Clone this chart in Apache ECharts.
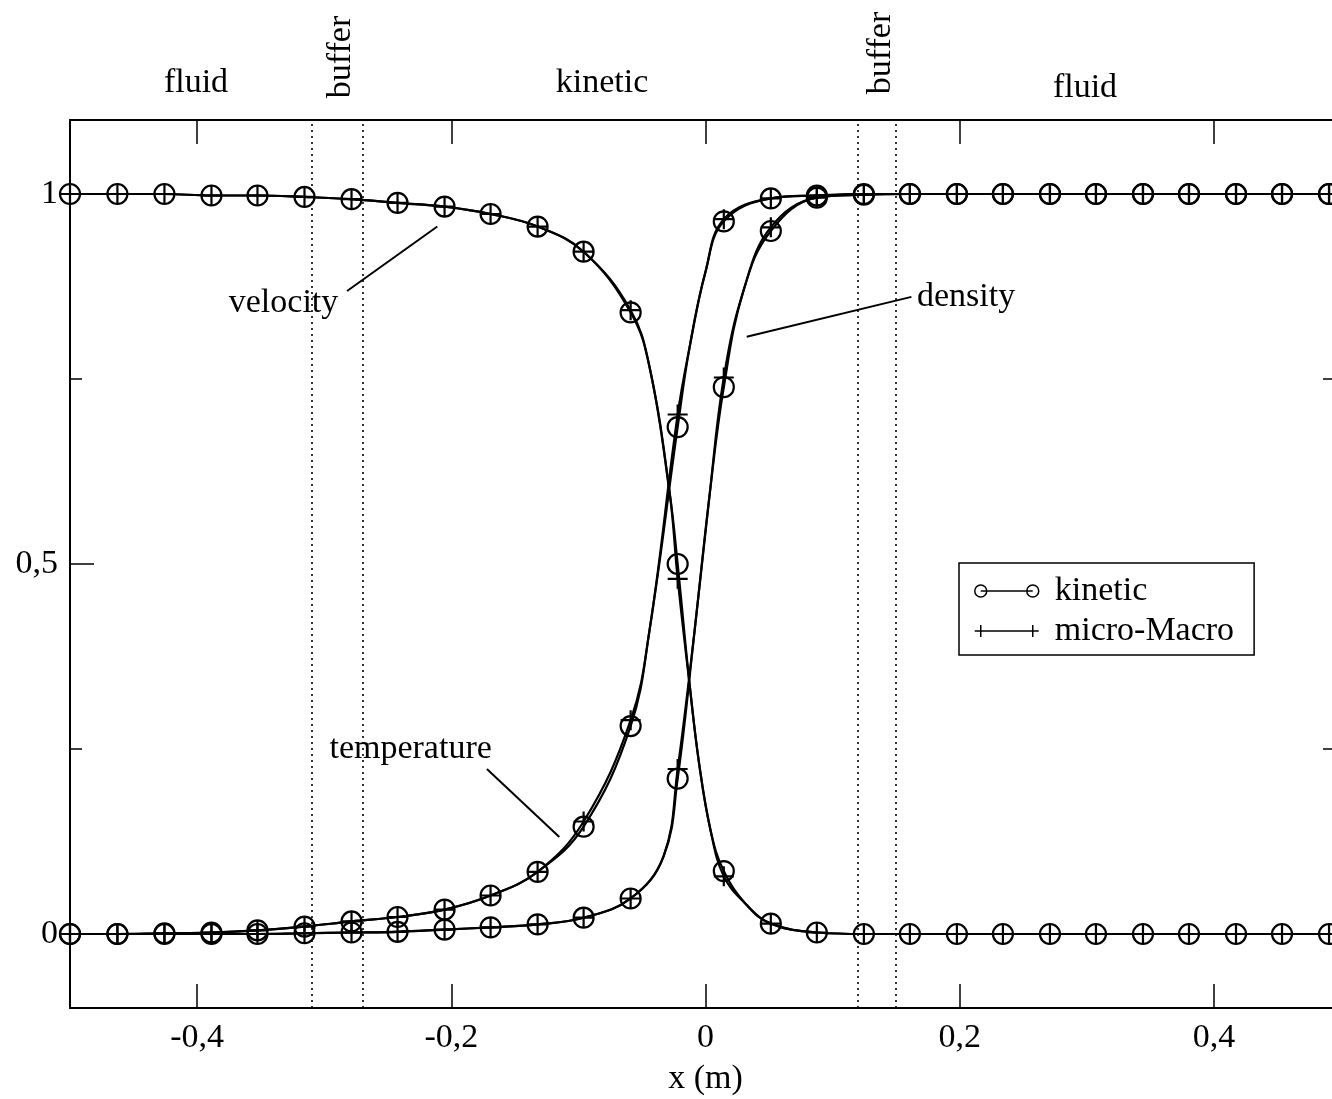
<!DOCTYPE html>
<html>
<head>
<meta charset="utf-8">
<script src="https://cdn.jsdelivr.net/npm/echarts@6/dist/echarts.min.js"></script>
<style>
    html, body { margin: 0; background: #fff; }
    #chart { width: 1332px; height: 1099px; }
</style>
</head>
<body>
<div id="chart"></div>
<script>
    // 标记点的 x 位置（kinetic 与 micro-Macro 共用）
    const markX = [-0.5, -0.4627, -0.4257, -0.3887, -0.3525, -0.3155, -0.2785, -0.2423, -0.2053, -0.1691,
        -0.1321, -0.0959, -0.0589, -0.0219, 0.0144, 0.0514, 0.0876, 0.1246, 0.1608, 0.1978,
        0.2340, 0.2710, 0.3072, 0.3442, 0.3804, 0.4174, 0.4536, 0.4906]

    // velocity
    const velKinetic = [1, 1, 1, 0.998, 0.998, 0.996, 0.993, 0.988, 0.983, 0.973, 0.956, 0.922, 0.840, 0.500,
        0.085, 0.014, 0.002, 0, 0, 0, 0, 0, 0, 0, 0, 0, 0, 0]
    const velMacro = [1, 1, 1, 0.998, 0.998, 0.996, 0.993, 0.988, 0.983, 0.973, 0.956, 0.922, 0.843, 0.480,
        0.078, 0.014, 0.002, 0, 0, 0, 0, 0, 0, 0, 0, 0, 0, 0]
    // temperature
    const tempKinetic = [0, 0, 0.001, 0.002, 0.005, 0.010, 0.017, 0.023, 0.033, 0.052, 0.084, 0.145, 0.281, 0.685,
        0.963, 0.994, 0.998, 1, 1, 1, 1, 1, 1, 1, 1, 1, 1, 1]
    const tempMacro = [0, 0, 0.001, 0.002, 0.005, 0.010, 0.017, 0.023, 0.033, 0.052, 0.084, 0.152, 0.289, 0.702,
        0.966, 0.994, 0.998, 1, 1, 1, 1, 1, 1, 1, 1, 1, 1, 1]
    // density
    const densKinetic = [0, 0, 0, 0, 0, 0.001, 0.002, 0.003, 0.006, 0.009, 0.013, 0.022, 0.048, 0.210,
        0.739, 0.950, 0.995, 0.999, 1, 1, 1, 1, 1, 1, 1, 1, 1, 1]
    const densMacro = [0, 0, 0, 0, 0, 0.001, 0.002, 0.003, 0.006, 0.009, 0.013, 0.022, 0.048, 0.223,
        0.752, 0.955, 0.995, 0.999, 1, 1, 1, 1, 1, 1, 1, 1, 1, 1]

    // 曲线在陡峭段的额外读数（只画线，不画标记）
    const velCurveX = [-0.0440, -0.0282, -0.0125, -0.0050, 0.0040, 0.0320]
    const velCurveY = [0.766, 0.596, 0.337, 0.230, 0.140, 0.040]
    const tempCurveX = [-0.0440, -0.0125, 0.0000]
    const tempCurveY = [0.411, 0.793, 0.895]
    const densCurveX = [-0.0330, -0.0085, 0.0030, 0.0300]
    const densCurveY = [0.105, 0.411, 0.590, 0.870]

    // buffer 区边界（虚线）
    const bufferX = [-0.3053, -0.2699, 0.1198, 0.1512]

    // 坐标轴刻度
    const xTicks = [-0.4, -0.2, 0, 0.2, 0.4]
    const yTicks = [0, 0.5, 1]
    const yMinorTicks = [0.25, 0.75]

    const FONT = '"Liberation Serif", "Times New Roman", serif'
    const fmt = (v) => String(v).replace('.', ',')

    const zip = (xs, ys) => xs.map((x, i) => [x, ys[i]])
    const curve = (xs, ys, cx, cy) => zip(xs, ys).concat(zip(cx, cy)).sort((a, b) => a[0] - b[0])

    // scatter 默认 opacity 0.8，这里改成不透明
    const markStyle = { color: 'rgba(0,0,0,0)', borderColor: '#000', borderWidth: 2.2, opacity: 1 }
    const plusSymbol = 'path://M10,0L10,20M0,10L20,10'

    const lineSeries = (name, data) => ({
        name,
        type: 'line',
        data,
        smooth: 0.4,
        symbol: 'none',
        clip: false,
        silent: true,
        lineStyle: { color: '#000', width: 2.2 },
        z: 2
    })
    const markSeries = (name, data, symbol) => ({
        name,
        type: 'scatter',
        data,
        symbol,
        symbolSize: 20,
        clip: false,
        silent: true,
        itemStyle: markStyle,
        z: 3
    })

    const groups = [
        [velKinetic, velMacro, velCurveX, velCurveY],
        [tempKinetic, tempMacro, tempCurveX, tempCurveY],
        [densKinetic, densMacro, densCurveX, densCurveY]
    ]
    const series = []
    groups.forEach(([k, m, cx, cy]) => {
        series.push(lineSeries('kinetic', curve(markX, k, cx, cy)))
        series.push(lineSeries('micro-Macro', curve(markX, m, cx, cy)))
        series.push(markSeries('kinetic', zip(markX, k), 'circle'))
        series.push(markSeries('micro-Macro', zip(markX, m), plusSymbol))
    })
    // buffer 虚线挂在第一条线上
    series[0].markLine = {
        silent: true,
        symbol: 'none',
        animation: false,
        label: { show: false },
        lineStyle: { color: '#000', width: 1.6, type: [2, 4] },
        data: bufferX.map((x) => ({ xAxis: x }))
    }

    const lineOf = (show) => ({ show, onZero: false, lineStyle: { color: '#000', width: 2 } })
    const tickAxis = (pos, ticks, len, showLine) => ({
        type: 'value',
        position: pos,
        min: -0.1,
        max: 1.1,
        axisLine: lineOf(showLine),
        axisTick: { show: true, inside: true, length: len, customValues: ticks, lineStyle: { color: '#000', width: 1.5 } },
        axisLabel: { show: false },
        splitLine: { show: false }
    })

    const yLeft = tickAxis('left', yTicks, 24, true)
    yLeft.axisLabel = {
        show: true, customValues: yTicks, formatter: fmt, margin: 12,
        color: '#000', fontSize: 34, fontFamily: FONT
    }

    const option = {
        animation: false,
        backgroundColor: '#fff',
        grid: { left: 70, top: 120, right: -9, bottom: 91, containLabel: false, outerBoundsMode: 'none' },
        xAxis: [
            {
                type: 'value',
                position: 'bottom',
                min: -0.5,
                max: 0.5,
                name: 'x (m)',
                nameLocation: 'middle',
                nameGap: 54,
                nameTextStyle: { color: '#000', fontSize: 34, fontFamily: FONT },
                axisLine: lineOf(true),
                axisTick: { show: true, inside: true, length: 24, customValues: xTicks, lineStyle: { color: '#000', width: 1.5 } },
                axisLabel: { customValues: xTicks, formatter: fmt, margin: 13, color: '#000', fontSize: 34, fontFamily: FONT },
                splitLine: { show: false }
            },
            {
                type: 'value',
                position: 'top',
                min: -0.5,
                max: 0.5,
                axisLine: lineOf(true),
                axisTick: { show: true, inside: true, length: 24, customValues: xTicks, lineStyle: { color: '#000', width: 1.5 } },
                axisLabel: { show: false },
                splitLine: { show: false }
            }
        ],
        yAxis: [
            yLeft,
            tickAxis('left', yMinorTicks, 12, false),
            tickAxis('right', yMinorTicks, 18, true)
        ],
        legend: {
            orient: 'vertical',
            left: 959,
            top: 563,
            padding: [10, 20, 6, 15],
            itemGap: 4,
            itemWidth: 64,
            itemHeight: 12,
            backgroundColor: '#fff',
            borderColor: '#000',
            borderWidth: 1.5,
            borderRadius: 0,
            selectedMode: false,
            itemStyle: { color: 'rgba(0,0,0,0)', borderColor: '#000', borderWidth: 1.5 },
            textStyle: { color: '#000', fontSize: 34, fontFamily: FONT, lineHeight: 36, padding: [0, 0, 0, 11] },
            data: [
                { name: 'kinetic', icon: 'path://M0,6A6,6,0,1,0,12,6A6,6,0,1,0,0,6ZM6,6L58,6M52,6A6,6,0,1,0,64,6A6,6,0,1,0,52,6Z' },
                { name: 'micro-Macro', icon: 'path://M0,6L64,6M6,0L6,12M58,0L58,12' }
            ]
        },
        series
    }

    const chart = echarts.init(document.getElementById('chart'))
    chart.setOption(option)

    // 曲线标注（数据坐标）：文字中心 + 指示线两端
    const notes = [
        { text: 'velocity', at: [-0.332, 0.853], from: [-0.282, 0.869], to: [-0.211, 0.956] },
        { text: 'density', at: [0.205, 0.861], from: [0.0324, 0.807], to: [0.162, 0.861] },
        { text: 'temperature', at: [-0.232, 0.250], from: [-0.172, 0.223], to: [-0.115, 0.131] }
    ]
    const px = (p) => chart.convertToPixel({ gridIndex: 0 }, p)

    const textEl = (text, x, y, rotation) => ({
        type: 'text',
        x, y,
        rotation: rotation || 0,
        silent: true,
        style: { text, x: 0, y: 0, fill: '#000', font: '34px ' + FONT, textAlign: 'center', textVerticalAlign: 'middle' }
    })

    const graphic = []
    notes.forEach((n) => {
        const a = px(n.from), b = px(n.to), c = px(n.at)
        graphic.push({
            type: 'line',
            silent: true,
            shape: { x1: a[0], y1: a[1], x2: b[0], y2: b[1] },
            style: { stroke: '#000', lineWidth: 2 }
        })
        graphic.push(textEl(n.text, c[0], c[1]))
    })
    // 顶部区域说明
    graphic.push(textEl('fluid', 196, 83))
    graphic.push(textEl('buffer', 341, 57, Math.PI / 2))
    graphic.push(textEl('kinetic', 602, 83))
    graphic.push(textEl('buffer', 881, 53, Math.PI / 2))
    graphic.push(textEl('fluid', 1085, 88))

    chart.setOption({ graphic })
</script>
</body>
</html>
